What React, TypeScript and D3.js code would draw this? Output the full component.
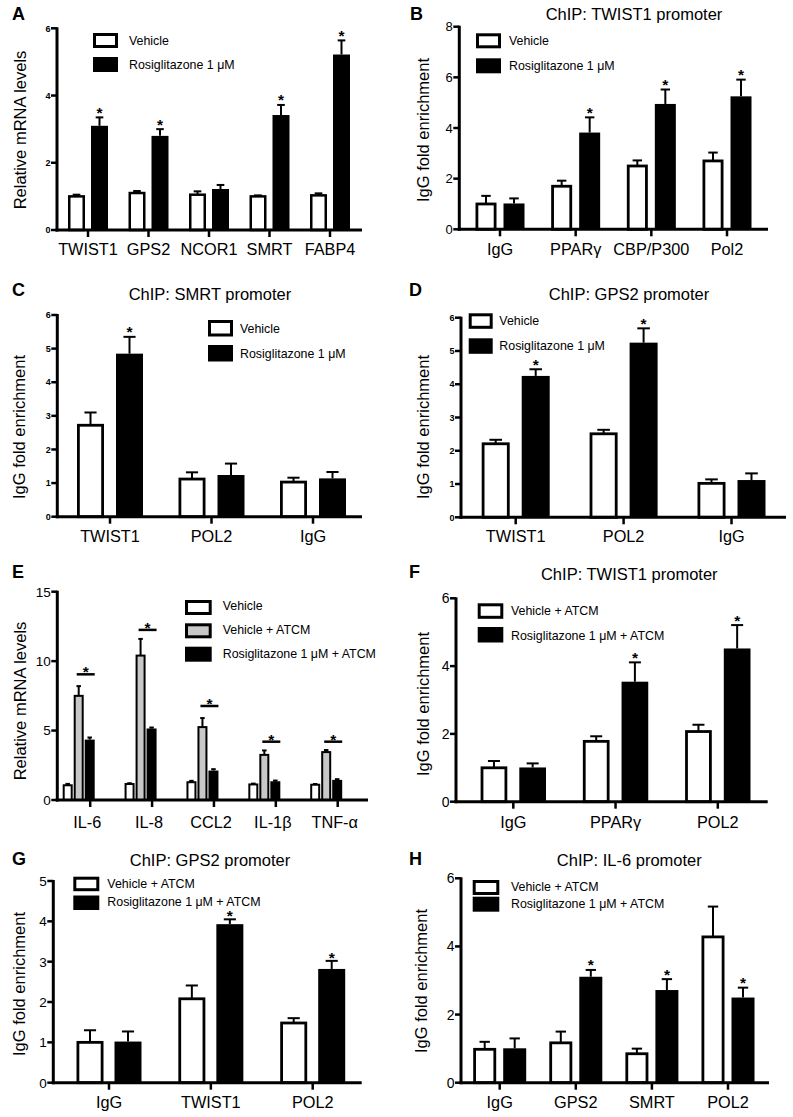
import React from "react";
import * as d3 from "d3";

const FONT = "'Liberation Sans', Arial, Helvetica, sans-serif";
const GRAY = "#c8c8c8";

// ---------- Data ----------
// Panel A
const catsA = ["TWIST1", "GPS2", "NCOR1", "SMRT", "FABP4"];
const vehA = [1.0, 1.1, 1.05, 1.0, 1.03];
const vehErrA = [0.05, 0.06, 0.1, 0.03, 0.06];
const rosiA = [3.1, 2.8, 1.22, 3.42, 5.22];
const rosiErrA = [0.25, 0.2, 0.12, 0.3, 0.42];
const starsA = [true, true, false, true, true];

// Panel B
const catsB = ["IgG", "PPARγ", "CBP/P300", "Pol2"];
const vehB = [1.0, 1.7, 2.5, 2.7];
const vehErrB = [0.32, 0.22, 0.22, 0.33];
const rosiB = [1.02, 3.82, 4.95, 5.25];
const rosiErrB = [0.2, 0.6, 0.57, 0.66];
const starsB = [false, true, true, true];

// Panel C
const catsC = ["TWIST1", "POL2", "IgG"];
const vehC = [2.72, 1.12, 1.03];
const vehErrC = [0.38, 0.2, 0.13];
const rosiC = [4.85, 1.24, 1.14];
const rosiErrC = [0.5, 0.34, 0.19];
const starsC = [true, false, false];

// Panel D
const catsD = ["TWIST1", "POL2", "IgG"];
const vehD = [2.21, 2.51, 1.02];
const vehErrD = [0.12, 0.12, 0.12];
const rosiD = [4.25, 5.25, 1.12];
const rosiErrD = [0.2, 0.43, 0.2];
const starsD = [true, true, false];

// Panel E
const catsE = ["IL-6", "IL-8", "CCL2", "IL-1β", "TNF-α"];
const vehE = [1.06, 1.15, 1.28, 1.12, 1.1];
const vehErrE = [0.1, 0.06, 0.1, 0.06, 0.05];
const atcmE = [7.5, 10.4, 5.25, 3.25, 3.45];
const atcmErrE = [0.7, 1.2, 0.65, 0.32, 0.15];
const rosiE = [4.35, 5.15, 2.12, 1.35, 1.45];
const rosiErrE = [0.15, 0.07, 0.1, 0.05, 0.05];
const sigE = [9.05, 12.25, 6.77, 4.2, 4.2];

// Panel F
const catsF = ["IgG", "PPARγ", "POL2"];
const vehF = [1.0, 1.78, 2.07];
const vehErrF = [0.2, 0.15, 0.2];
const rosiF = [1.01, 3.54, 4.52];
const rosiErrF = [0.12, 0.57, 0.69];
const starsF = [false, true, true];

// Panel G
const catsG = ["IgG", "TWIST1", "POL2"];
const vehG = [1.0, 2.08, 1.48];
const vehErrG = [0.3, 0.33, 0.12];
const rosiG = [1.02, 3.93, 2.82];
const rosiErrG = [0.25, 0.12, 0.2];
const starsG = [false, true, true];

// Panel H
const catsH = ["IgG", "GPS2", "SMRT", "POL2"];
const vehH = [0.98, 1.17, 0.85, 4.28];
const vehErrH = [0.22, 0.33, 0.15, 0.89];
const rosiH = [1.01, 3.11, 2.72, 2.5];
const rosiErrH = [0.29, 0.2, 0.32, 0.29];
const starsH = [false, true, true, true];

const ticks6a = [0, 2, 4, 6];
const ticks8 = [0, 2, 4, 6, 8];
const ticks6b = [0, 1, 2, 3, 4, 5, 6];
const ticks15 = [0, 5, 10, 15];
const ticks5 = [0, 1, 2, 3, 4, 5];

const legVeh = ["Vehicle", "Rosiglitazone 1 μM"];
const legAtcm = ["Vehicle + ATCM", "Rosiglitazone 1 μM + ATCM"];
const legE = ["Vehicle", "Vehicle + ATCM", "Rosiglitazone 1 μM + ATCM"];

// ---------- Component ----------
type Series = { values: number[]; errs: number[]; fill: string; stars?: boolean[] };

type Cfg = {
  letter: string; letterX: number; letterY: number;
  title?: string; titleX?: number; titleY?: number;
  cats: string[]; series: Series[];
  axisX: number; y0: number; yTop: number; yMax: number; ticks: number[];
  tickFont: number; tickBold?: boolean;
  xEnd: number; c0: number; c1: number; barW: number; gap: number; sw?: number;
  tickOffset?: number; labelOffset?: number; starDy?: number;
  xLabelY: number; yLabel: string; yLabelX: number; yLabelY: number;
  legend: { labels: string[]; fills: string[]; boxX: number; boxW: number; boxH: number; tops: number[]; textX: number; baselines: number[] };
  sig?: number[];
};

function Panel({ c }: { c: Cfg }) {
  const y = d3.scaleLinear().domain([0, c.yMax]).range([c.y0, c.yTop]);
  const x = d3.scalePoint<string>().domain(c.cats).range([c.c0, c.c1]);
  const n = c.series.length;
  const total = n * c.barW + (n - 1) * c.gap;
  const inner = d3
    .scaleBand<number>()
    .domain(d3.range(n))
    .range([-total / 2, total / 2])
    .paddingInner(c.gap / (c.barW + c.gap))
    .paddingOuter(0);
  const bw = inner.bandwidth();
  const sw = c.sw ?? 2.8;
  const tOff = c.tickOffset ?? 0;
  const lOff = c.labelOffset ?? tOff;
  const sDy = c.starDy ?? 0.5;
  const els: React.ReactNode[] = [];

  c.cats.forEach((cat, ci) => {
    const cx = x(cat) as number;
    c.series.forEach((s, si) => {
      const left = cx + (inner(si) as number);
      const v = s.values[ci];
      const top = y(v);
      const eTop = y(v + s.errs[ci]);
      const mid = left + bw / 2;
      const capW = bw * 0.45;
      els.push(
        <g key={`e${ci}-${si}`}>
          <line x1={mid} x2={mid} y1={top} y2={eTop} stroke="#000" strokeWidth={2} />
          <line x1={mid - capW / 2} x2={mid + capW / 2} y1={eTop} y2={eTop} stroke="#000" strokeWidth={2} />
        </g>
      );
      if (s.fill === "#000") {
        els.push(<rect key={`b${ci}-${si}`} x={left} y={top} width={bw} height={c.y0 - top} fill="#000" />);
      } else {
        els.push(
          <rect key={`b${ci}-${si}`} x={left + sw / 2} y={top} width={bw - sw} height={c.y0 - top} fill={s.fill} stroke="#000" strokeWidth={sw} />
        );
      }
      if (s.stars && s.stars[ci]) {
        els.push(
          <text key={`s${ci}-${si}`} x={mid} y={eTop + sDy} textAnchor="middle" fontSize={15.5} fontWeight="bold" fontFamily={FONT}>*</text>
        );
      }
    });
    if (c.sig) {
      const lv = c.sig[ci];
      const ly = y(lv);
      const l1 = cx + (inner(1) as number) + bw / 2 - 2;
      const l2 = cx + (inner(2) as number) + bw;
      els.push(
        <g key={`sig${ci}`}>
          <line x1={l1} x2={l2} y1={ly} y2={ly} stroke="#000" strokeWidth={2.5} />
          <text x={(l1 + l2) / 2} y={ly + 3} textAnchor="middle" fontSize={15.5} fontWeight="bold" fontFamily={FONT}>*</text>
        </g>
      );
    }
  });

  return (
    <g fontFamily={FONT}>
      <text x={c.letterX} y={c.letterY} fontSize={18} fontWeight="bold">{c.letter}</text>
      {c.title && (
        <text x={c.titleX} y={c.titleY} fontSize={16.5} textAnchor="middle">{c.title}</text>
      )}
      <line x1={c.axisX} x2={c.axisX} y1={c.y0 + 1.5} y2={c.yTop - 1} stroke="#000" strokeWidth={3} />
      {c.ticks.map((t) => (
        <g key={`yt${t}`}>
          <line x1={c.axisX - 6} x2={c.axisX} y1={y(t)} y2={y(t)} stroke="#000" strokeWidth={2.5} />
          <text x={c.axisX - 6.5} y={y(t)} dy="0.36em" textAnchor="end" fontSize={c.tickFont} fontWeight={c.tickBold ? "bold" : "normal"}>
            {t}
          </text>
        </g>
      ))}
      <text transform={`translate(${c.yLabelX},${c.yLabelY}) rotate(-90)`} textAnchor="middle" fontSize={16.5}>{c.yLabel}</text>
      {els}
      <line x1={c.axisX - 1.5} x2={c.xEnd} y1={c.y0} y2={c.y0} stroke="#000" strokeWidth={3} />
      {c.cats.map((cat) => {
        const cx = x(cat) as number;
        return (
          <g key={`xt${cat}`}>
            <line x1={cx + tOff} x2={cx + tOff} y1={c.y0} y2={c.y0 + 7} stroke="#000" strokeWidth={2.5} />
            <text x={cx + lOff} y={c.xLabelY} textAnchor="middle" fontSize={16.3}>{cat}</text>
          </g>
        );
      })}
      {c.legend.labels.map((lab, i) => {
        const f = c.legend.fills[i];
        const top = c.legend.tops[i];
        return (
          <g key={`lg${i}`}>
            {f === "#000" ? (
              <rect x={c.legend.boxX} y={top} width={c.legend.boxW} height={c.legend.boxH} fill="#000" />
            ) : (
              <rect x={c.legend.boxX + 1.5} y={top + 1.5} width={c.legend.boxW - 3} height={c.legend.boxH - 3} fill={f} stroke="#000" strokeWidth={3} />
            )}
            <text x={c.legend.textX} y={c.legend.baselines[i]} fontSize={12.4}>{lab}</text>
          </g>
        );
      })}
    </g>
  );
}

const twoFills = ["#fff", "#000"];

const panels: Cfg[] = [
  {
    letter: "A", letterX: 12, letterY: 20,
    cats: catsA,
    series: [
      { values: vehA, errs: vehErrA, fill: "#fff" },
      { values: rosiA, errs: rosiErrA, fill: "#000", stars: starsA },
    ],
    axisX: 57, y0: 230, yTop: 28.3, yMax: 6, ticks: ticks6a, tickFont: 9, tickBold: true,
    xEnd: 362, c0: 88, c1: 330, barW: 17, gap: 6, sw: 2.5,
    xLabelY: 255, yLabel: "Relative mRNA levels", yLabelX: 26, yLabelY: 130,
    legend: { labels: legVeh, fills: twoFills, boxX: 93, boxW: 25, boxH: 15, tops: [33, 57], textX: 129, baselines: [45, 69] },
  },
  {
    letter: "B", letterX: 410, letterY: 20,
    title: "ChIP: TWIST1 promoter", titleX: 634, titleY: 20,
    cats: catsB,
    series: [
      { values: vehB, errs: vehErrB, fill: "#fff" },
      { values: rosiB, errs: rosiErrB, fill: "#000", stars: starsB },
    ],
    axisX: 459.3, y0: 229.3, yTop: 26.7, yMax: 8, ticks: ticks8, tickFont: 13,
    xEnd: 768, c0: 500, c1: 727, barW: 21, gap: 7,
    xLabelY: 255, yLabel: "IgG fold enrichment", yLabelX: 429, yLabelY: 130,
    legend: { labels: legVeh, fills: twoFills, boxX: 476, boxW: 25, boxH: 15, tops: [33.3, 58.3], textX: 509, baselines: [45, 70] },
  },
  {
    letter: "C", letterX: 12, letterY: 296,
    title: "ChIP: SMRT promoter", titleX: 210, titleY: 300,
    cats: catsC,
    series: [
      { values: vehC, errs: vehErrC, fill: "#fff" },
      { values: rosiC, errs: rosiErrC, fill: "#000", stars: starsC },
    ],
    axisX: 57.3, y0: 516.7, yTop: 315, yMax: 6, ticks: ticks6b, tickFont: 9, tickBold: true,
    xEnd: 362, c0: 110, c1: 313, barW: 27, gap: 12,
    xLabelY: 541.7, yLabel: "IgG fold enrichment", yLabelX: 25, yLabelY: 427,
    legend: { labels: legVeh, fills: twoFills, boxX: 208, boxW: 25, boxH: 16.5, tops: [320, 345], textX: 240, baselines: [333, 358] },
  },
  {
    letter: "D", letterX: 409, letterY: 296,
    title: "ChIP: GPS2 promoter", titleX: 629, titleY: 300,
    cats: catsD,
    series: [
      { values: vehD, errs: vehErrD, fill: "#fff" },
      { values: rosiD, errs: rosiErrD, fill: "#000", stars: starsD },
    ],
    axisX: 461, y0: 517.3, yTop: 317.7, yMax: 6, ticks: ticks6b, tickFont: 9, tickBold: true,
    xEnd: 786, c0: 515.7, c1: 731.5, barW: 28, gap: 12,
    xLabelY: 541.7, yLabel: "IgG fold enrichment", yLabelX: 429, yLabelY: 427,
    legend: { labels: legVeh, fills: twoFills, boxX: 468.7, boxW: 24, boxH: 15.5, tops: [313.3, 338.3], textX: 499.3, baselines: [325, 350] },
  },
  {
    letter: "E", letterX: 12, letterY: 578,
    cats: catsE,
    series: [
      { values: vehE, errs: vehErrE, fill: "#fff" },
      { values: atcmE, errs: atcmErrE, fill: GRAY },
      { values: rosiE, errs: rosiErrE, fill: "#000" },
    ],
    sig: sigE,
    axisX: 57.3, y0: 800, yTop: 591.7, yMax: 15, ticks: ticks15, tickFont: 13.5,
    xEnd: 368, c0: 78.7, c1: 326.2, barW: 10, gap: 1, sw: 2, tickOffset: 11.5, labelOffset: 8.5,
    xLabelY: 828.3, yLabel: "Relative mRNA levels", yLabelX: 26, yLabelY: 701,
    legend: { labels: legE, fills: ["#fff", GRAY, "#000"], boxX: 185, boxW: 26.7, boxH: 15, tops: [600, 623.3, 646.7], textX: 222.7, baselines: [610, 634.3, 658.3] },
  },
  {
    letter: "F", letterX: 409, letterY: 578,
    title: "ChIP: TWIST1 promoter", titleX: 629.3, titleY: 580,
    cats: catsF,
    series: [
      { values: vehF, errs: vehErrF, fill: "#fff" },
      { values: rosiF, errs: rosiErrF, fill: "#000", stars: starsF },
    ],
    axisX: 456, y0: 801.7, yTop: 598.3, yMax: 6, ticks: ticks6a, tickFont: 14,
    xEnd: 767.7, c0: 513.3, c1: 717.8, barW: 26.7, gap: 12,
    xLabelY: 828.3, yLabel: "IgG fold enrichment", yLabelX: 429, yLabelY: 704,
    legend: { labels: legAtcm, fills: twoFills, boxX: 477.7, boxW: 25.6, boxH: 15.5, tops: [603.3, 627], textX: 511, baselines: [615, 640] },
  },
  {
    letter: "G", letterX: 12, letterY: 865,
    title: "ChIP: GPS2 promoter", titleX: 210, titleY: 865.7,
    cats: catsG,
    series: [
      { values: vehG, errs: vehErrG, fill: "#fff" },
      { values: rosiG, errs: rosiErrG, fill: "#000", stars: starsG },
    ],
    axisX: 53.3, y0: 1082.7, yTop: 881, yMax: 5, ticks: ticks5, tickFont: 13.5, starDy: 2,
    xEnd: 361.7, c0: 109, c1: 312.7, barW: 27, gap: 11,
    xLabelY: 1108, yLabel: "IgG fold enrichment", yLabelX: 25, yLabelY: 984,
    legend: { labels: legAtcm, fills: twoFills, boxX: 73.3, boxW: 26, boxH: 14.5, tops: [876.7, 895.5], textX: 107.3, baselines: [888.3, 905.5] },
  },
  {
    letter: "H", letterX: 409, letterY: 865,
    title: "ChIP: IL-6 promoter", titleX: 629.3, titleY: 865.7,
    cats: catsH,
    series: [
      { values: vehH, errs: vehErrH, fill: "#fff" },
      { values: rosiH, errs: rosiErrH, fill: "#000", stars: starsH },
    ],
    axisX: 461, y0: 1082.7, yTop: 878.3, yMax: 6, ticks: ticks6a, tickFont: 14,
    xEnd: 769, c0: 499.7, c1: 728, barW: 23, gap: 7,
    xLabelY: 1108, yLabel: "IgG fold enrichment", yLabelX: 427, yLabelY: 981,
    legend: { labels: legAtcm, fills: twoFills, boxX: 472.7, boxW: 26.6, boxH: 15, tops: [880, 896.7], textX: 511, baselines: [891, 908.3] },
  },
];

export default function App() {
  return (
    <svg
      width={793}
      height={1117}
      viewBox="0 0 793 1117"
      style={{ position: "absolute", left: 0, top: 0, background: "#fff" }}
    >
      <rect x={0} y={0} width={793} height={1117} fill="#fff" />
      {panels.map((p) => (
        <Panel key={p.letter} c={p} />
      ))}
    </svg>
  );
}
